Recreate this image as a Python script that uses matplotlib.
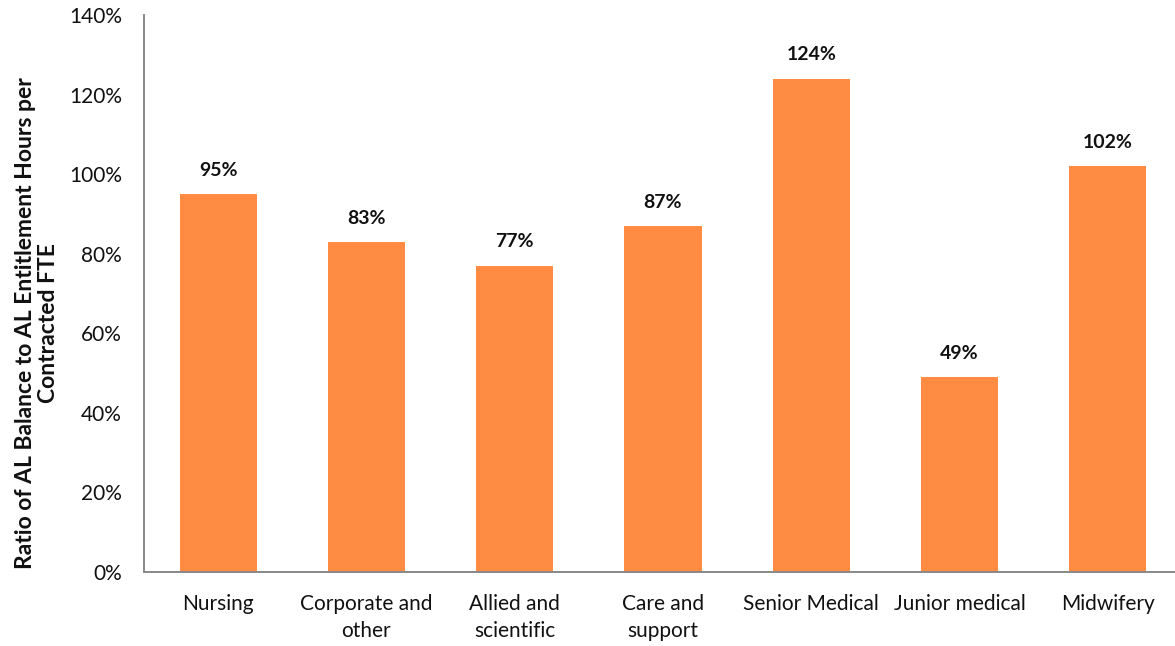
import matplotlib
matplotlib.use("Agg")
import matplotlib.pyplot as plt
from matplotlib.ticker import FuncFormatter

plt.rcParams["font.family"] = ["Lato", "DejaVu Sans"]

categories = ["Nursing", "Corporate and\nother", "Allied and\nscientific", "Care and\nsupport",
              "Senior Medical", "Junior medical", "Midwifery"]
ratios = [95, 83, 77, 87, 124, 49, 102]  # percent
y_ticks = [0, 20, 40, 60, 80, 100, 120, 140]

BAR = "#FF8C42"
AXIS = "#888888"

fig = plt.figure(figsize=(11.75, 6.46), dpi=100)
ax = fig.add_axes([144 / 1175, 1 - 572 / 646, 1038 / 1175, 557 / 646])

x = range(len(categories))
ax.bar(x, ratios, width=0.52, color=BAR, zorder=2)

for xi, v in zip(x, ratios):
    ax.annotate(f"{v}%", (xi, v), xytext=(0, 11), textcoords="offset points",
                ha="center", va="bottom", fontsize=14, fontweight="bold", color="#111111")

ax.set_xlim(-0.5, len(categories) - 0.5)
ax.set_ylim(0, 140)
ax.set_yticks(y_ticks)
ax.yaxis.set_major_formatter(FuncFormatter(lambda v, _: f"{v:.0f}%"))
ax.set_xticks(list(x))
ax.set_xticklabels(categories, linespacing=1.45)

ax.tick_params(axis="y", length=0, pad=16, labelsize=15, labelcolor="#111111")
ax.tick_params(axis="x", length=0, pad=16, labelsize=15, labelcolor="#111111")

for side in ("top", "right"):
    ax.spines[side].set_visible(False)
for side in ("left", "bottom"):
    ax.spines[side].set_color(AXIS)
    ax.spines[side].set_linewidth(1.4)

fig.text(37 / 1175, 1 - 323 / 646,
         "Ratio of AL Balance to AL Entitlement Hours per\nContracted FTE",
         rotation=90, ha="center", va="center", fontsize=16.5, fontweight="bold",
         color="#111111", linespacing=1.15)

fig.savefig("out.png", dpi=100)
